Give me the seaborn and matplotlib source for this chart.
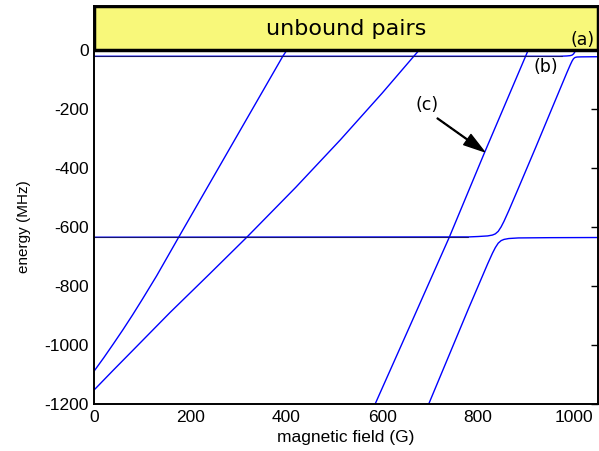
import matplotlib
matplotlib.use("Agg")
import matplotlib.pyplot as plt
from matplotlib.patches import Rectangle
import seaborn as sns
import pandas as pd

# ---- data (field in G, energy in MHz) ----
field_a = [0, 970, 985, 992, 996, 999, 1002, 1006]
energy_a = [-22, -22, -20.9, -19.8, -17.9, -14, -6.2, 7.5]

field_b = [0, 780, 800, 820, 830, 836, 842, 848, 854, 864, 884, 920, 960,
           985, 992, 996, 999, 1002, 1006, 1015, 1050]
energy_b = [-635, -634, -632.6, -630.6, -627.6, -623.5, -615, -600, -581, -545,
            -469, -331, -175, -77.7, -51.5, -37.8, -30, -26.1, -24.5, -24, -23.5]

field_c = [692, 780, 800, 820, 830, 836, 842, 848, 854, 864, 884, 950, 1050]
energy_c = [-1220, -877, -801, -725, -689, -670, -655, -646.5, -642.4, -639.4,
            -637.4, -636.5, -636]

field_d = [582, 586, 660, 740, 813, 899, 910]
energy_d = [-1214, -1198, -928, -635, -350, -22, 20]

field_e = [0, 20, 40, 60, 80, 100, 130, 176, 393, 402, 410]
energy_e = [-1088, -1043, -996, -948, -898, -846, -766, -635, -22, 0, 23]

field_f = [0, 40, 80, 158, 240, 318, 420, 513, 600, 666, 680, 690]
energy_f = [-1152, -1085, -1019, -890, -760, -635, -466, -305, -147, -22, 4, 22]

# flat bound levels that look darker in the reference
flat_start = [0, 0]
flat_end = [975, 780]
flat_level = [-22, -635]

curves = {"a": (field_a, energy_a), "b": (field_b, energy_b),
          "c": (field_c, energy_c), "d": (field_d, energy_d),
          "e": (field_e, energy_e), "f": (field_f, energy_f)}

x_ticks = [0, 200, 400, 600, 800, 1000]
y_ticks = [-1200, -1000, -800, -600, -400, -200, 0]

rows = []
for name, (fx, ey) in curves.items():
    for g, e in zip(fx, ey):
        rows.append({"field": g, "energy": e, "curve": name})
df = pd.DataFrame(rows)

flat_rows = []
for i, (x0, x1, lv) in enumerate(zip(flat_start, flat_end, flat_level)):
    flat_rows.append({"field": x0, "energy": lv, "curve": i})
    flat_rows.append({"field": x1, "energy": lv, "curve": i})
df_flat = pd.DataFrame(flat_rows)

# ---- figure ----
sns.set_theme(style="white")
plt.rcParams["font.family"] = ["Liberation Sans", "DejaVu Sans"]

fig = plt.figure(figsize=(5.99, 4.51), dpi=100)
ax = fig.add_axes([0.1573, 0.1042, 0.8411, 0.8836])

sns.lineplot(data=df, x="field", y="energy", units="curve", estimator=None,
             sort=False, color="#0000ff", lw=1.0, ax=ax, legend=False)
sns.lineplot(data=df_flat, x="field", y="energy", units="curve", estimator=None,
             sort=False, color="#14146e", lw=0.8, ax=ax, legend=False)

ax.set_xlim(0, 1050)
ax.set_ylim(-1200, 150)
ax.set_xticks(x_ticks)
ax.set_yticks(y_ticks)
ax.set_xticklabels([str(v) for v in x_ticks])
ax.set_yticklabels([str(v) for v in y_ticks])
ax.tick_params(direction="in", top=True, right=True, length=5, width=1,
               color="black", labelsize=12.5, labelcolor="black", pad=4)
for s in ax.spines.values():
    s.set_color("black")
    s.set_linewidth(1.4)

ax.set_xlabel("magnetic field (G)", fontsize=12.5, color="black", labelpad=4)
ax.set_ylabel("energy (MHz)", fontsize=11, color="black")
ax.yaxis.set_label_coords(-0.125, 0.444)

box = Rectangle((0, 0), 1050, 150, facecolor="#f8f87a", edgecolor="black",
                lw=2.5, zorder=3)
ax.add_patch(box)
ax.text(525, 72, "unbound pairs", ha="center", va="center", fontsize=16,
        family="DejaVu Sans", zorder=4, color="black")

ax.text(1018, 32, "(a)", ha="center", va="center", fontsize=12.5,
        family="DejaVu Sans", zorder=5, color="black")
ax.text(941, -59, "(b)", ha="center", va="center", fontsize=12.5,
        family="DejaVu Sans", zorder=5, color="black")
ax.text(694, -186, "(c)", ha="center", va="center", fontsize=12.5,
        family="DejaVu Sans", zorder=5, color="black")
ax.annotate("", xy=(813, -345), xytext=(715, -232),
            arrowprops=dict(facecolor="black", edgecolor="black", width=0.6,
                            headwidth=9, headlength=15, shrink=0),
            zorder=5)

fig.savefig("out.png", dpi=100)
